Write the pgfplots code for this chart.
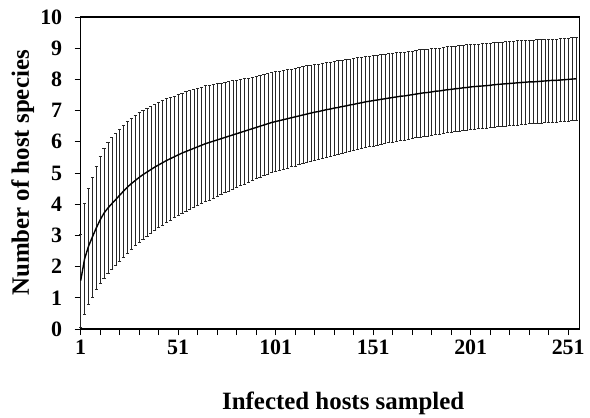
\documentclass[border=0pt]{standalone}
\usepackage{pgfplots}
\usepackage{pgfplotstable}
\pgfplotsset{compat=1.18}
\usepackage{fontspec}
\setmainfont{Liberation Serif}

% x = hosts sampled, m = mean species, h = half-width of bar
\pgfplotstableread{
x m h
1 1.55 1.50
3 2.25 1.78
5 2.65 1.86
7 2.95 1.92
9 3.24 1.98
11 3.50 2.04
13 3.72 2.08
15 3.88 2.10
17 4.02 2.11
19 4.15 2.12
21 4.29 2.12
23 4.42 2.12
25 4.55 2.11
27 4.66 2.10
29 4.76 2.09
31 4.86 2.08
33 4.95 2.07
35 5.03 2.05
37 5.11 2.04
39 5.19 2.02
41 5.26 2.00
43 5.33 1.99
45 5.40 1.98
47 5.46 1.97
49 5.52 1.95
51 5.58 1.94
53 5.64 1.93
55 5.69 1.92
57 5.74 1.91
59 5.79 1.90
61 5.84 1.89
63 5.89 1.87
65 5.94 1.86
67 5.98 1.84
69 6.02 1.82
71 6.06 1.80
73 6.10 1.78
75 6.14 1.77
77 6.18 1.75
79 6.22 1.74
81 6.26 1.72
83 6.30 1.70
85 6.34 1.69
87 6.38 1.67
89 6.42 1.66
91 6.46 1.64
93 6.50 1.63
95 6.54 1.62
97 6.58 1.61
99 6.62 1.61
101 6.65 1.60
103 6.68 1.59
105 6.71 1.59
107 6.74 1.58
109 6.77 1.57
111 6.80 1.57
113 6.83 1.56
115 6.86 1.55
117 6.89 1.55
119 6.92 1.54
121 6.95 1.54
123 6.97 1.53
125 7.00 1.53
127 7.03 1.52
129 7.05 1.51
131 7.08 1.51
133 7.10 1.50
135 7.13 1.49
137 7.15 1.49
139 7.18 1.48
141 7.20 1.48
143 7.23 1.47
145 7.25 1.46
147 7.28 1.46
149 7.30 1.45
151 7.32 1.45
153 7.34 1.44
155 7.36 1.44
157 7.38 1.43
159 7.40 1.43
161 7.42 1.42
163 7.44 1.42
165 7.46 1.41
167 7.47 1.41
169 7.49 1.41
171 7.51 1.40
173 7.53 1.40
175 7.55 1.40
177 7.57 1.39
179 7.58 1.39
181 7.60 1.39
183 7.62 1.38
185 7.63 1.38
187 7.65 1.38
189 7.67 1.38
191 7.68 1.37
193 7.70 1.37
195 7.71 1.37
197 7.73 1.37
199 7.74 1.37
201 7.76 1.37
203 7.77 1.36
205 7.78 1.36
207 7.79 1.36
209 7.80 1.36
211 7.81 1.36
213 7.83 1.35
215 7.84 1.35
217 7.85 1.35
219 7.86 1.35
221 7.87 1.35
223 7.88 1.35
225 7.89 1.35
227 7.90 1.34
229 7.91 1.34
231 7.92 1.34
233 7.92 1.34
235 7.93 1.34
237 7.94 1.34
239 7.95 1.34
241 7.96 1.34
243 7.97 1.33
245 7.97 1.33
247 7.98 1.33
249 7.99 1.33
251 8.00 1.33
253 8.01 1.33
255 8.02 1.33
}\rare

\begin{document}
\begin{tikzpicture}
\useasboundingbox (-80.7bp,-89bp) rectangle (509.3bp,329bp);
\begin{axis}[%
at={(0,0)},
anchor=south west,
width=499bp,
height=312bp,
scale only axis,
xmin=1,
xmax=256.9,
ymin=0,
ymax=10,
xtick={1,51,...,251},
minor xtick={11,21,...,251},
ytick={0,1,...,10},
tick align=outside,
xtick pos=bottom,
ytick pos=left,
major tick length=6bp,
minor tick length=6bp,
every tick/.style={black,line width=0.7bp},
axis line style={line width=1.1bp},
/pgf/number format/assume math mode=true,
tick label style={font=\fontsize{22}{26}\selectfont\bfseries},
xticklabel style={yshift=-2bp,text height=14bp,text depth=0bp},
yticklabel style={xshift=-9bp},
every axis x label/.style={at={(axis description cs:0.5,0)},anchor=center,
  xshift=13bp,yshift=-74bp,font=\fontsize{25}{30}\selectfont\bfseries},
every axis y label/.style={at={(axis description cs:0,0.5)},anchor=center,
  xshift=-58bp,rotate=90,font=\fontsize{25}{30}\selectfont\bfseries},
xlabel={Infected hosts sampled},
ylabel={Number of host species},
clip=false,
]
\addplot[black!85,line width=0.5bp,mark=none,forget plot,
  draw=none,
  error bars/.cd, y dir=both, y explicit,
  error bar style={black!85,line width=0.55bp},
  error mark options={rotate=90,mark size=1.6bp,line width=0.55bp,black!85}]
  table[x=x,y=m,y error=h] {\rare};
\addplot[black,line width=1.4bp,mark=none,forget plot] table[x=x,y=m] {\rare};
\end{axis}
\end{tikzpicture}
\end{document}
